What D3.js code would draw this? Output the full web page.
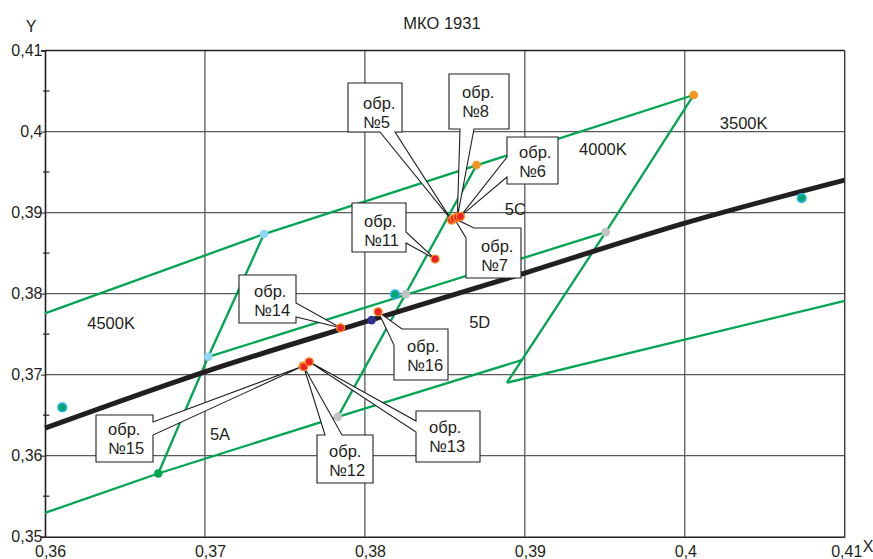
<!DOCTYPE html>
<html>
<head>
<meta charset="utf-8">
<script src="https://cdn.jsdelivr.net/npm/d3@7"></script>
<style>
  html, body { margin: 0; padding: 0; background: #fff; }
  svg { display: block; font-family: "Liberation Sans", Arial, sans-serif; }
</style>
</head>
<body>
<svg id="chart" width="873" height="559"></svg>
<script>
// ---------------- DATA ----------------
const chartTitle = "МКО 1931";
const xTickValues = [0.36, 0.37, 0.38, 0.39, 0.40, 0.41];
const xTickLabels = ["0,36", "0,37", "0,38", "0,39", "0,4", "0,41"];
const yTickValues = [0.35, 0.36, 0.37, 0.38, 0.39, 0.40, 0.41];
const yTickLabels = ["0,35", "0,36", "0,37", "0,38", "0,39", "0,4", "0,41"];
const yMinorTicks = [0.355, 0.365, 0.375, 0.385, 0.395, 0.405];

// Planckian locus (black)
const locusX = [0.36, 0.37, 0.38, 0.39, 0.40, 0.41];
const locusY = [0.3634, 0.37035, 0.37651, 0.38254, 0.38870, 0.39401];

// Quadrangle boundary polylines (green)
const lineTop     = [[0.36, 0.37756], [0.37369, 0.38735], [0.40056, 0.40451]];
const lineLeft    = [[0.37369, 0.38735], [0.37021, 0.37220], [0.36708, 0.35780]];
const lineBottom  = [[0.36, 0.35294], [0.36708, 0.35780], [0.37831, 0.36479], [0.38981, 0.37179]];
const lineMiddle  = [[0.37021, 0.37220], [0.39506, 0.38759]];
const lineInner   = [[0.37831, 0.36479], [0.38698, 0.39586]];
const lineRight   = [[0.38888, 0.36900], [0.39506, 0.38759], [0.40056, 0.40451]];
const line3500Bot = [[0.38888, 0.36900], [0.41, 0.37911]];

// Reference points
const lightBlueX = [0.37369, 0.37021];
const lightBlueY = [0.38735, 0.37220];
const greenX = [0.36708];
const greenY = [0.35780];
const orangeX = [0.40056, 0.38698];
const orangeY = [0.40451, 0.39586];
const grayX = [0.37831, 0.38256, 0.39506];
const grayY = [0.36479, 0.37994, 0.38759];
const tealX = [0.36108, 0.40731, 0.38188];
const tealY = [0.36595, 0.39179, 0.37990];
const navyX = [0.38042];
const navyY = [0.37673];

// Samples (red)
const sampleNames = ["№5", "№7", "№8", "№6", "№11", "№14", "№16", "№15", "№12", "№13"];
const sampleX = [0.38542, 0.38558, 0.38578, 0.38597, 0.38439, 0.37848, 0.38083, 0.37614, 0.37618, 0.37652];
const sampleY = [0.38907, 0.38928, 0.38941, 0.38953, 0.38426, 0.37578, 0.37775, 0.37105, 0.37097, 0.37158];
const samplePrefix = "обр.";

// Region labels
const regionNames = ["5C", "5D", "5A", "4500K", "4000K", "3500K"];
const regionX = [0.38875, 0.38652, 0.37031, 0.36264, 0.39339, 0.40219];
const regionY = [0.38969, 0.37570, 0.36191, 0.37558, 0.39710, 0.40027];

// ---------------- LAYOUT ----------------
const W = 873, H = 559;
const x = d3.scaleLinear().domain([0.36, 0.41]).range([45, 844.7]);
const y = d3.scaleLinear().domain([0.35, 0.41]).range([536.7, 50.5]);

const INK = "#231f20";
const GRID = "#5a5a5a";
const GREEN = "#00a651";

// callout boxes (pixel layout)
const calloutLayout = {
  "№5":  {box: [348, 83, 54, 49],  side: "bottom",  a: [32, 47], text: [363, 109]},
  "№8":  {box: [449, 74, 60, 55],  side: "bottom",  a: [11, 25], text: [462, 98]},
  "№6":  {box: [507, 137, 51, 47], side: "left",    a: [20, 40], text: [519, 158]},
  "№7":  {box: [466, 228, 55, 50], side: "topleft", a: [8, 10],  text: [481, 252]},
  "№11": {box: [352, 203, 54, 49], side: "right",   a: [29, 40], text: [364, 227]},
  "№14": {box: [239, 275, 57, 48], side: "right",   a: [28, 42], text: [254, 297]},
  "№16": {box: [394, 329, 54, 51], side: "topleft", a: [8, 16],  text: [407, 352]},
  "№15": {box: [96, 415, 57, 47],  side: "right",   a: [7, 20],  text: [108, 435]},
  "№12": {box: [317, 435, 56, 48], side: "top",     a: [8, 25],  text: [329, 457]},
  "№13": {box: [416, 411, 64, 51], side: "left",    a: [10, 21], text: [429, 433]}
};

const svg = d3.select("#chart");

// ---------- grid ----------
const plot = svg.append("g");
plot.selectAll("line.vgrid").data(xTickValues.slice(1, -1)).join("line")
  .attr("x1", d => x(d)).attr("x2", d => x(d))
  .attr("y1", y(0.35)).attr("y2", y(0.41))
  .attr("stroke", GRID).attr("stroke-width", 1.3);
plot.selectAll("line.hgrid").data(yTickValues.slice(1, -1)).join("line")
  .attr("x1", x(0.36)).attr("x2", x(0.41))
  .attr("y1", d => y(d)).attr("y2", d => y(d))
  .attr("stroke", GRID).attr("stroke-width", 1.3);
// right border
plot.append("line").attr("x1", x(0.41)).attr("x2", x(0.41))
  .attr("y1", y(0.35)).attr("y2", y(0.41)).attr("stroke", "#3a3a3a").attr("stroke-width", 1.4);
// top border
plot.append("line").attr("x1", x(0.36)).attr("x2", x(0.41))
  .attr("y1", y(0.41)).attr("y2", y(0.41)).attr("stroke", INK).attr("stroke-width", 1.6);

// ---------- axes ----------
const xAxis = svg.append("g").attr("transform", `translate(0,${y(0.35)})`)
  .call(d3.axisBottom(x).tickValues(xTickValues).tickSize(0)
    .tickFormat((d, i) => xTickLabels[i]));
xAxis.select(".domain").attr("stroke", INK).attr("stroke-width", 1.6);
xAxis.selectAll("text").attr("text-anchor", "start").attr("dx", (d, i) => i === xTickValues.length - 1 ? -14 : -10.5)
  .attr("dy", 0).attr("y", 20.3).attr("fill", INK)
  .style("font-size", "16px").style("font-family", '"Liberation Sans", Arial, sans-serif');

const yAxis = svg.append("g").attr("transform", `translate(${x(0.36)},0)`)
  .call(d3.axisLeft(y).tickValues(yTickValues).tickSize(4)
    .tickFormat((d, i) => yTickLabels[i]));
yAxis.select(".domain").attr("stroke", INK).attr("stroke-width", 1.6);
yAxis.selectAll(".tick line").attr("stroke", INK);
yAxis.selectAll("text").attr("x", -2.5).attr("dy", 5.2).attr("fill", INK)
  .style("font-size", "16px").style("font-family", '"Liberation Sans", Arial, sans-serif');
svg.append("g").selectAll("line").data(yMinorTicks).join("line")
  .attr("x1", x(0.36) - 2).attr("x2", x(0.36) + 4.5)
  .attr("y1", d => y(d)).attr("y2", d => y(d))
  .attr("stroke", INK).attr("stroke-width", 1.2);

// ---------- green boundaries ----------
const lineGen = d3.line().x(d => x(d[0])).y(d => y(d[1]));
const greens = [lineTop, lineLeft, lineBottom, lineMiddle, lineInner, lineRight, line3500Bot];
svg.append("g").selectAll("path").data(greens).join("path")
  .attr("d", lineGen).attr("fill", "none")
  .attr("stroke", GREEN).attr("stroke-width", 2.3).attr("stroke-linejoin", "miter");

// ---------- Planckian locus ----------
const locus = locusX.map((v, i) => [v, locusY[i]]);
svg.append("path").datum(locus)
  .attr("d", d3.line().x(d => x(d[0])).y(d => y(d[1])).curve(d3.curveMonotoneX))
  .attr("fill", "none").attr("stroke", INK).attr("stroke-width", 5);

// ---------- callouts ----------
function calloutPath(L, tip) {
  const [bx, by, bw, bh] = L.box;
  const [a1, a2] = L.a;
  const TL = [bx, by], TR = [bx + bw, by], BR = [bx + bw, by + bh], BL = [bx, by + bh];
  let pts;
  switch (L.side) {
    case "top":
      pts = [TL, [bx + a1, by], tip, [bx + a2, by], TR, BR, BL]; break;
    case "right":
      pts = [TL, TR, [bx + bw, by + a1], tip, [bx + bw, by + a2], BR, BL]; break;
    case "bottom":
      pts = [TL, TR, BR, [bx + a2, by + bh], tip, [bx + a1, by + bh], BL]; break;
    case "left":
      pts = [TL, TR, BR, BL, [bx, by + a2], tip, [bx, by + a1]]; break;
    case "topleft":
      pts = [[bx + a1, by], TR, BR, BL, [bx, by + a2], tip]; break;
  }
  return "M" + pts.map(p => p[0] + "," + p[1]).join("L") + "Z";
}

const callG = svg.append("g");
sampleNames.forEach((name, i) => {
  const L = calloutLayout[name];
  const tip = [x(sampleX[i]), y(sampleY[i])];
  callG.append("path").attr("d", calloutPath(L, tip))
    .attr("fill", "#fff").attr("stroke", INK).attr("stroke-width", 1.1)
    .attr("stroke-linejoin", "miter");
  const t = callG.append("text").attr("fill", INK).style("font-size", "16.5px");
  t.append("tspan").attr("x", L.text[0]).attr("y", L.text[1]).text(samplePrefix);
  t.append("tspan").attr("x", L.text[0]).attr("y", L.text[1] + 18.5).text(name);
});

// ---------- dots ----------
const dotG = svg.append("g");
function dots(xs, ys, fill, stroke, sw, r) {
  dotG.selectAll(null).data(xs.map((v, i) => [v, ys[i]])).join("circle")
    .attr("cx", d => x(d[0])).attr("cy", d => y(d[1])).attr("r", r || 4.3)
    .attr("fill", fill).attr("stroke", stroke).attr("stroke-width", sw);
}
dots(lightBlueX, lightBlueY, "#8fd5f5", "none", 0);
dots(greenX, greenY, GREEN, "none", 0);
dots(orangeX, orangeY, "#f7941d", "none", 0);
dots(grayX, grayY, "#c2c2c2", "none", 0);
dots(tealX, tealY, "#00a66e", "#27b4e8", 1.6);
dots(navyX, navyY, "#2e3192", "none", 0);
dots(sampleX, sampleY, "#ec2227", "#f7941d", 1.3, 4.0);

// ---------- region labels ----------
svg.append("g").selectAll("text").data(regionNames).join("text")
  .attr("x", (d, i) => x(regionX[i])).attr("y", (d, i) => y(regionY[i]))
  .attr("fill", INK).style("font-size", "16.5px").text(d => d);

// ---------- titles ----------
svg.append("text").attr("x", 442).attr("y", 29.3).attr("text-anchor", "middle")
  .attr("fill", INK).style("font-size", "16.5px").text(chartTitle);
svg.append("text").attr("x", 31).attr("y", 32.3).attr("text-anchor", "middle")
  .attr("fill", INK).style("font-size", "16px").text("Y");
svg.append("text").attr("x", 868).attr("y", 551.5).attr("text-anchor", "middle")
  .attr("fill", INK).style("font-size", "16px").text("X");
</script>
</body>
</html>
